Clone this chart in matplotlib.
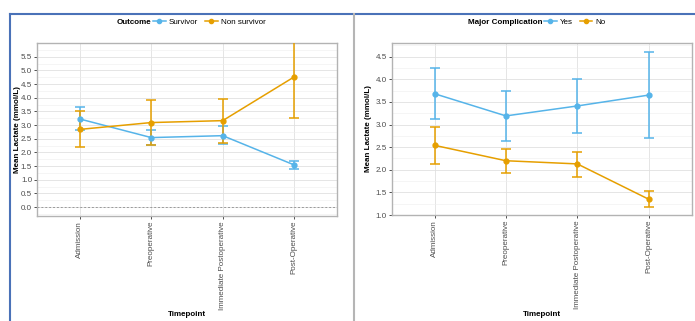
import matplotlib
matplotlib.use("Agg")
import matplotlib.pyplot as plt
from matplotlib.lines import Line2D
from matplotlib.ticker import MultipleLocator
import numpy as np

timepoints = ["Admission", "Preoperative", "Immediate Postoperative", "Post-Operative"]

# left panel: outcome
survivor_mean = [3.22, 2.54, 2.61, 1.54]
survivor_low = [2.80, 2.27, 2.29, 1.39]
survivor_high = [3.67, 2.80, 2.95, 1.70]
nonsurv_mean = [2.84, 3.09, 3.16, 4.76]
nonsurv_low = [2.19, 2.26, 2.35, 3.24]
nonsurv_high = [3.52, 3.93, 3.96, 6.28]

# right panel: major complication
yes_mean = [3.68, 3.19, 3.41, 3.65]
yes_low = [3.12, 2.64, 2.82, 2.70]
yes_high = [4.25, 3.73, 4.00, 4.60]
no_mean = [2.54, 2.20, 2.13, 1.35]
no_low = [2.13, 1.93, 1.85, 1.18]
no_high = [2.94, 2.47, 2.39, 1.53]

BLUE = "#56B4E9"
ORANGE = "#E69F00"
TICK_COLOR = "#4D4D4D"
FS = 5.8

plt.rcParams["font.family"] = ["Liberation Sans", "DejaVu Sans"]

fig = plt.figure(figsize=(6.95, 3.21), dpi=100)
fig.patch.set_facecolor("white")


def draw_panel(ax, series, ylim, yticks, ylab_x, xlab_y):
    x = np.arange(1, len(timepoints) + 1)
    for mean, low, high, color in series:
        mean = np.array(mean)
        err = [mean - np.array(low), np.array(high) - mean]
        ax.errorbar(x, mean, yerr=err, color=color, lw=1.1, marker="o",
                    markersize=3.5, capsize=3.5, capthick=1.1, elinewidth=1.1,
                    zorder=3, clip_on=True)
    ax.set_xlim(0.4, 4.6)
    ax.set_ylim(*ylim)
    ax.set_xticks(x)
    ax.set_xticklabels(timepoints, rotation=90, fontsize=FS, color=TICK_COLOR)
    ax.set_yticks(yticks)
    ax.set_yticklabels([f"{v:.1f}" for v in yticks], fontsize=FS, color=TICK_COLOR)
    ax.yaxis.set_minor_locator(MultipleLocator(0.25))
    ax.grid(True, which="major", color="#E0E0E0", lw=0.6)
    ax.grid(True, which="minor", axis="y", color="#EEEEEE", lw=0.4)
    ax.set_axisbelow(True)
    for s in ax.spines.values():
        s.set_color("#B3B3B3")
        s.set_linewidth(1.0)
    ax.tick_params(axis="both", which="major", length=2, width=0.6, color="#333333", pad=1.5)
    ax.tick_params(axis="y", which="minor", length=0)
    ax.set_xlabel("Timepoint", fontsize=FS, fontweight="bold")
    ax.set_ylabel("Mean Lactate (mmol/L)", fontsize=FS, fontweight="bold")
    ax.yaxis.set_label_coords(ylab_x, 0.5)
    ax.xaxis.set_label_coords(0.5, xlab_y)


ax1 = fig.add_axes([0.0532, 0.327, 0.4317, 0.539])
draw_panel(ax1, [(survivor_mean, survivor_low, survivor_high, BLUE),
                 (nonsurv_mean, nonsurv_low, nonsurv_high, ORANGE)],
           (-0.33, 6.0), np.arange(0, 5.51, 0.5), -0.053, -0.548)
ax1.axhline(0, color="#9A9A9A", lw=0.7, ls=(0, (2, 2)), zorder=2)

ax2 = fig.add_axes([0.5636, 0.330, 0.4314, 0.536])
draw_panel(ax2, [(yes_mean, yes_low, yes_high, BLUE),
                 (no_mean, no_low, no_high, ORANGE)],
           (1.0, 4.8), np.arange(1.0, 4.51, 0.5), -0.066, -0.555)


def add_legend(title, labels, x_title, y):
    fig.text(x_title / 695, 1 - y / 321, title, fontsize=FS, fontweight="bold",
             ha="right", va="center")
    handles = [Line2D([], [], color=c, marker="o", markersize=3, lw=1.1)
               for c in (BLUE, ORANGE)]
    fig.legend(handles, labels, loc="center left",
               bbox_to_anchor=((x_title + 2) / 695, 1 - y / 321), ncol=2,
               frameon=False, fontsize=FS, handlelength=1.6, handletextpad=0.4,
               columnspacing=0.8, borderpad=0, borderaxespad=0)


add_legend("Outcome", ["Survivor", "Non survivor"], 151, 22)
add_legend("Major Complication", ["Yes", "No"], 542, 22)

# page border and divider
fig.add_artist(Line2D([10 / 695, 1], [1 - 14 / 321] * 2, color="#4A72B8", lw=1.5))
fig.add_artist(Line2D([10 / 695] * 2, [0, 1 - 14 / 321], color="#4A72B8", lw=1.5))
fig.add_artist(Line2D([353.5 / 695] * 2, [0, 1 - 14 / 321], color="#B5B5B5", lw=1.5))

fig.savefig("out.png", dpi=100)
